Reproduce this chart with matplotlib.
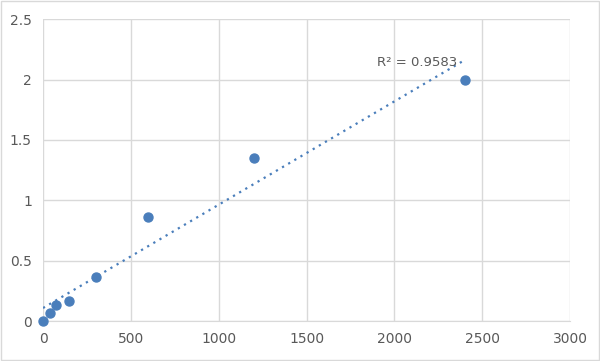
import numpy as np
import matplotlib.pyplot as plt
from matplotlib.patches import Rectangle

# Standard curve readings
conc = [0, 37.5, 75, 150, 300, 600, 1200, 2400]
od = [0.0, 0.066, 0.13, 0.165, 0.364, 0.86, 1.35, 2.0]
r2_label = "R² = 0.9583"
xticks = [0, 500, 1000, 1500, 2000, 2500, 3000]
yticks = [0, 0.5, 1, 1.5, 2, 2.5]

fig = plt.figure(figsize=(6, 3.61), dpi=100)
ax = fig.add_axes([0.0717, 0.1108, 0.8783, 0.8362])

# grey frame round the whole chart
fig.patches.append(Rectangle((0.002, 0.003), 0.996, 0.994, transform=fig.transFigure,
                             fill=False, ec='#d9d9d9', lw=1))

# linear trendline
slope, icpt = np.polyfit(conc, od, 1)
xs = np.array([0, max(conc)])
ax.plot(xs, slope * xs + icpt, ls=(0, (1, 2.2)), color='#4a7ebb', lw=1.6, zorder=2)

ax.scatter(conc, od, s=42, color='#4a7ebb', zorder=3, clip_on=False)

ax.text(1900, 2.14, r2_label, fontsize=9.5, color='#595959', va='center')

ax.set_xlim(0, 3000)
ax.set_ylim(0, 2.5)
ax.set_xticks(xticks)
ax.set_yticks(yticks)
ax.set_yticklabels(['0', '0.5', '1', '1.5', '2', '2.5'])
ax.grid(True, color='#d9d9d9', lw=1)
ax.set_axisbelow(True)
for s in ['top', 'right', 'left']:
    ax.spines[s].set_visible(False)
ax.spines['bottom'].set_color('#d9d9d9')
ax.tick_params(length=0, labelsize=10, labelcolor='#595959', pad=8)

fig.savefig('out.png')
